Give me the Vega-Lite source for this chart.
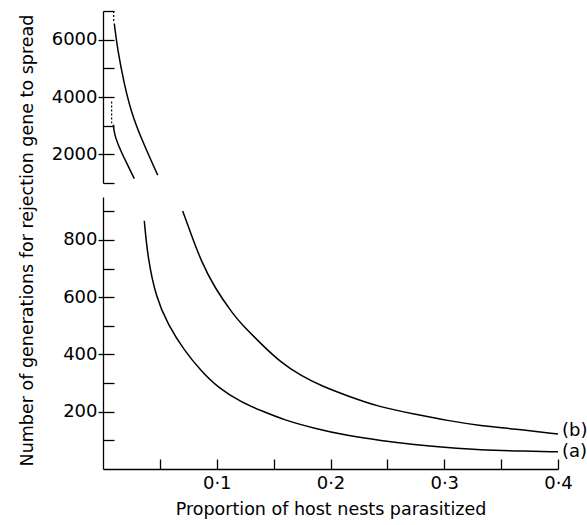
{
  "$schema": "https://vega.github.io/schema/vega-lite/v6.json",
  "padding": {"left": 17, "top": 8, "right": 0, "bottom": 2},
  "bounds": "flush",
  "spacing": 14,
  "config": {
    "view": {"stroke": null},
    "font": "DejaVu Sans",
    "axis": {
      "grid": false,
      "domainColor": "black",
      "domainWidth": 1.3,
      "tickColor": "black",
      "tickWidth": 1.3,
      "tickCount": 50,
      "labelColor": "black",
      "titleColor": "black",
      "labelFont": "DejaVu Sans",
      "titleFont": "DejaVu Sans",
      "labelFontSize": 18,
      "titleFontSize": 17.5,
      "titleFontWeight": "normal"
    }
  },
  "datasets": {
    "curves": [
      {"panel": "top", "series": "a", "x": 0.0091, "y": 3037},
      {"panel": "top", "series": "a", "x": 0.0099, "y": 2684},
      {"panel": "top", "series": "a", "x": 0.0158, "y": 2095},
      {"panel": "top", "series": "a", "x": 0.0217, "y": 1626},
      {"panel": "top", "series": "a", "x": 0.0275, "y": 1154},
      {"panel": "top", "series": "b", "x": 0.0099, "y": 6564},
      {"panel": "top", "series": "b", "x": 0.0129, "y": 5622},
      {"panel": "top", "series": "b", "x": 0.0187, "y": 4448},
      {"panel": "top", "series": "b", "x": 0.0246, "y": 3506},
      {"panel": "top", "series": "b", "x": 0.0334, "y": 2564},
      {"panel": "top", "series": "b", "x": 0.0481, "y": 1273},
      {"panel": "bottom", "series": "a", "x": 0.0363, "y": 867},
      {"panel": "bottom", "series": "a", "x": 0.0393, "y": 738},
      {"panel": "bottom", "series": "a", "x": 0.0466, "y": 599},
      {"panel": "bottom", "series": "a", "x": 0.0569, "y": 506},
      {"panel": "bottom", "series": "a", "x": 0.0715, "y": 413},
      {"panel": "bottom", "series": "a", "x": 0.0862, "y": 343},
      {"panel": "bottom", "series": "a", "x": 0.1008, "y": 285},
      {"panel": "bottom", "series": "a", "x": 0.1215, "y": 233},
      {"panel": "bottom", "series": "a", "x": 0.1389, "y": 204},
      {"panel": "bottom", "series": "a", "x": 0.1594, "y": 171},
      {"panel": "bottom", "series": "a", "x": 0.1857, "y": 142},
      {"panel": "bottom", "series": "a", "x": 0.2151, "y": 116},
      {"panel": "bottom", "series": "a", "x": 0.2443, "y": 99},
      {"panel": "bottom", "series": "a", "x": 0.2736, "y": 85},
      {"panel": "bottom", "series": "a", "x": 0.3029, "y": 75},
      {"panel": "bottom", "series": "a", "x": 0.3322, "y": 67},
      {"panel": "bottom", "series": "a", "x": 0.3615, "y": 63},
      {"panel": "bottom", "series": "a", "x": 0.4, "y": 60},
      {"panel": "bottom", "series": "b", "x": 0.0701, "y": 901},
      {"panel": "bottom", "series": "b", "x": 0.0774, "y": 820},
      {"panel": "bottom", "series": "b", "x": 0.0862, "y": 727},
      {"panel": "bottom", "series": "b", "x": 0.0979, "y": 634},
      {"panel": "bottom", "series": "b", "x": 0.1154, "y": 535},
      {"panel": "bottom", "series": "b", "x": 0.1215, "y": 508},
      {"panel": "bottom", "series": "b", "x": 0.1389, "y": 437},
      {"panel": "bottom", "series": "b", "x": 0.1564, "y": 372},
      {"panel": "bottom", "series": "b", "x": 0.174, "y": 326},
      {"panel": "bottom", "series": "b", "x": 0.1916, "y": 291},
      {"panel": "bottom", "series": "b", "x": 0.2151, "y": 255},
      {"panel": "bottom", "series": "b", "x": 0.2443, "y": 215},
      {"panel": "bottom", "series": "b", "x": 0.2736, "y": 192},
      {"panel": "bottom", "series": "b", "x": 0.3029, "y": 169},
      {"panel": "bottom", "series": "b", "x": 0.3322, "y": 151},
      {"panel": "bottom", "series": "b", "x": 0.3615, "y": 140},
      {"panel": "bottom", "series": "b", "x": 0.4, "y": 122}
    ],
    "dots": [
      {"series": "a", "x": 0.0076, "y": 3845},
      {"series": "a", "x": 0.0076, "y": 3085},
      {"series": "b", "x": 0.0094, "y": 7000},
      {"series": "b", "x": 0.0094, "y": 6600}
    ],
    "labels": [
      {"label": "(b)", "x": 0.4, "y": 134},
      {"label": "(a)", "x": 0.4, "y": 58}
    ]
  },
  "vconcat": [
    {
      "width": 455,
      "height": 172,
      "resolve": {"axis": {"y": "independent"}},
      "layer": [
        {
          "data": {"name": "curves"},
          "transform": [{"filter": "datum.panel == 'top'"}],
          "mark": {"type": "line", "color": "black", "strokeWidth": 1.5, "interpolate": "basis"},
          "encoding": {
            "x": {"field": "x", "type": "quantitative", "scale": {"domain": [0, 0.4], "nice": false}, "axis": null},
            "y": {
              "field": "y", "type": "quantitative",
              "scale": {"domain": [1000, 7000], "nice": false, "zero": false},
              "axis": {
                "orient": "left",
                "title": null,
                "values": [1000, 2000, 3000, 4000, 5000, 6000, 7000],
                "tickCount": 50,
                "labels": false,
                "tickSize": -11
              }
            },
            "detail": {"field": "series"}
          }
        },
        {
          "data": {"name": "dots"},
          "mark": {"type": "line", "color": "black", "strokeWidth": 1.2, "strokeDash": [2, 2]},
          "encoding": {
            "x": {"field": "x", "type": "quantitative", "axis": null},
            "y": {
              "field": "y", "type": "quantitative",
              "axis": {
                "orient": "left",
                "title": null,
                "values": [2000, 4000, 6000],
                "tickCount": 50,
                "format": "d",
                "domain": false,
                "tickSize": 5,
                "labelPadding": 1
              }
            },
            "detail": {"field": "series"}
          }
        }
      ]
    },
    {
      "width": 455,
      "height": 272,
      "resolve": {"axis": {"x": "independent", "y": "independent"}},
      "layer": [
        {
          "data": {"name": "curves"},
          "transform": [{"filter": "datum.panel == 'bottom'"}],
          "mark": {"type": "line", "color": "black", "strokeWidth": 1.5, "interpolate": "basis"},
          "encoding": {
            "x": {
              "field": "x", "type": "quantitative",
              "scale": {"domain": [0, 0.4], "nice": false},
              "axis": {
                "orient": "bottom",
                "title": null,
                "values": [0.05, 0.1, 0.15, 0.2, 0.25, 0.3, 0.35, 0.4],
                "tickCount": 50,
                "labels": false,
                "tickSize": -10
              }
            },
            "y": {
              "field": "y", "type": "quantitative",
              "scale": {"domain": [0, 950], "nice": false},
              "axis": {
                "orient": "left",
                "title": null,
                "values": [100, 200, 300, 400, 500, 600, 700, 800, 900],
                "tickCount": 50,
                "labels": false,
                "tickSize": -11
              }
            },
            "detail": {"field": "series"}
          }
        },
        {
          "data": {"name": "labels"},
          "mark": {"type": "text", "align": "left", "baseline": "middle", "dx": 4, "fontSize": 18, "font": "DejaVu Sans", "color": "black"},
          "encoding": {
            "x": {
              "field": "x", "type": "quantitative",
              "axis": {
                "orient": "bottom",
                "title": "Proportion of host nests parasitized",
                "values": [0.1, 0.2, 0.3, 0.4],
                "tickCount": 50,
                "format": ".1f",
                "labelExpr": "replace(datum.label, '.', '·')",
                "domain": false,
                "ticks": false,
                "labelPadding": 5,
                "labelFlush": false,
                "titlePadding": 8
              }
            },
            "y": {
              "field": "y", "type": "quantitative",
              "axis": {
                "orient": "left",
                "title": "Number of generations for rejection gene to spread",
                "values": [200, 400, 600, 800],
                "tickCount": 50,
                "format": "d",
                "domain": false,
                "tickSize": 5,
                "labelPadding": 1,
                "titleX": -67,
                "titleY": 43,
                "titleAlign": "center"
              }
            },
            "text": {"field": "label"}
          }
        }
      ]
    }
  ]
}
